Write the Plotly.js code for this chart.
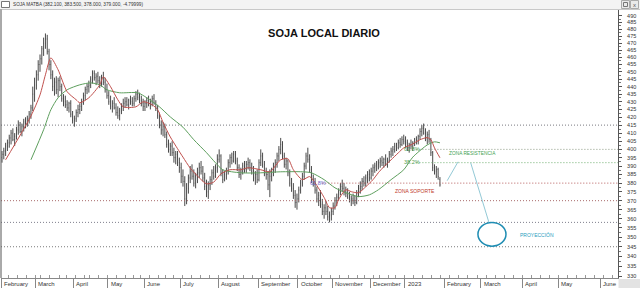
<!DOCTYPE html>
<html><head><meta charset="utf-8">
<script src="https://cdn.plot.ly/plotly-3.0.1.min.js"></script>
<style>html,body{margin:0;padding:0;background:#fff}#chart{width:640px;height:288px}</style>
</head><body><div id="chart"></div>
<script>
// ---------- DATA ----------
// Argentine market holidays 2022 (no trading bars)
const holidays = ['2022-02-28','2022-03-01','2022-03-24','2022-04-14','2022-04-15','2022-05-18','2022-05-25',
  '2022-06-17','2022-06-20','2022-08-15','2022-10-07','2022-10-10','2022-11-21','2022-12-08','2022-12-09','2022-12-20'];

// daily bars from 2022-02-01 to 2023-01-27 (one per trading day)
const open = [
 395,397,399,402,404,407,410,406,408,412,415,411,414,417,416,419,422,426,435,
 441,448,455,459,466,470,473,464,455,448,440,443,438,444,440,432,430,428,426,429,422,
 418,419,423,425,427,430,434,438,440,441,445,449,446,447,444,441,446,443,438,
 434,430,427,429,426,423,421,424,427,429,430,428,431,430,429,432,435,433,431,429,
 427,429,431,428,430,432,429,426,421,415,412,414,409,403,400,402,398,395,397,392,
 389,384,381,371,377,383,387,384,380,384,386,389,387,383,378,375,379,382,386,384,389,
 394,396,386,382,385,387,392,395,393,397,393,389,385,387,390,388,391,392,389,387,383,385,
 382,392,396,391,386,385,379,384,387,390,392,396,400,403,396,391,393,386,380,377,373,369,
 371,376,380,384,390,396,394,388,382,380,376,371,373,368,364,366,364,361,362,
 364,367,370,372,375,378,377,375,374,372,370,371,370,369,374,377,378,381,380,383,385,
 383,387,389,390,391,392,393,392,394,391,393,397,399,400,402,401,404,403,406,
 405,404,401,403,402,404,406,405,408,411,413,410,407,409,406,398,389,387,388,382.1];
const high = [
 399,401,404,406,409,412,413,410,414,418,417,416,419,420,421,424,428,440,446,
 451,458,462,468,474,477,476,466,458,451,446,447,446,447,442,435,434,431,430,431,424,
 421,425,428,429,432,436,440,442,444,447,451,451,449,450,447,448,450,446,442,
 437,434,431,433,429,427,426,429,432,433,433,432,434,433,434,437,438,436,434,432,
 431,433,434,432,434,435,431,428,423,418,417,416,411,406,404,405,401,399,399,395,
 392,388,384,380,385,390,391,388,386,389,392,393,390,386,382,381,384,388,390,391,397,
 400,397,388,387,389,394,397,398,399,399,395,391,389,392,393,393,395,394,392,390,387,388,
 394,400,398,393,389,387,388,389,392,394,398,402,407,405,398,395,394,388,383,380,376,374,
 378,382,386,392,398,401,397,390,385,383,378,375,376,371,368,370,367,364,366,
 369,372,374,377,380,382,380,378,377,375,373,374,373,376,379,381,383,384,385,387,388,
 389,391,392,393,394,395,396,395,397,395,399,401,402,404,404,406,407,408,409,
 408,406,404,406,405,407,408,409,413,415,416,413,411,412,407,399,391,390,389,383.5];
const low = [
 392,394,396,399,401,403,405,402,406,409,410,408,411,413,414,416,419,424,430,
 438,444,450,455,461,466,462,451,445,437,434,435,433,437,430,427,426,424,423,420,416,
 414,417,420,422,424,428,431,435,436,439,442,444,441,442,439,440,441,436,432,
 428,425,423,425,421,419,418,422,424,426,427,425,428,427,427,430,431,429,427,424,
 424,426,427,425,427,428,424,419,413,409,408,407,401,398,396,396,392,391,390,386,
 380,378,367,368,374,380,382,378,377,380,383,385,381,376,372,371,376,379,382,383,386,
 392,384,380,381,382,385,389,391,392,391,387,383,382,385,386,386,388,387,385,381,379,380,
 381,390,389,384,382,376,372,381,384,386,389,393,397,394,389,388,384,378,375,371,366,365,
 369,374,378,382,388,392,386,380,378,374,369,367,366,362,360,362,359,358,359,
 362,365,367,370,373,375,373,372,371,369,367,368,367,368,372,374,376,378,378,380,381,
 382,384,386,387,388,389,390,389,390,389,392,395,396,398,399,400,401,402,403,
 401,399,398,400,399,402,403,403,406,408,409,405,403,404,396,387,385,383,382,378];
const close = [
 397,399,402,404,407,410,406,408,412,415,411,414,417,416,419,422,426,435,441,
 448,455,459,466,470,473,464,455,448,440,443,438,444,440,432,430,428,426,429,422,418,
 419,423,425,427,430,434,438,440,441,445,449,446,447,444,441,446,443,438,434,
 430,427,429,426,423,421,424,427,429,430,428,431,430,429,432,435,433,431,429,427,
 429,431,428,430,432,429,426,421,415,412,414,409,403,400,402,398,395,397,392,389,
 384,381,371,377,383,387,384,380,384,386,389,387,383,378,375,379,382,386,384,389,394,
 396,386,382,385,387,392,395,393,397,393,389,385,387,390,388,391,392,389,387,383,385,382,
 392,396,391,386,385,379,384,387,390,392,396,400,403,396,391,393,386,380,377,373,369,371,
 376,380,384,390,396,394,388,382,380,376,371,373,368,364,366,364,361,362,364,
 367,370,372,375,378,377,375,374,372,370,371,370,369,374,377,378,381,380,383,385,383,
 387,389,390,391,392,393,392,394,391,393,397,399,400,402,401,404,403,406,405,
 404,401,403,402,404,406,405,408,411,413,410,407,409,406,398,389,387,388,383.8,379];

// short moving average (red)
const redDates = ['2022-02-03','2022-02-23','2022-03-04','2022-03-09','2022-03-14','2022-03-18','2022-03-28','2022-04-04','2022-04-06','2022-04-13','2022-04-25','2022-04-27','2022-05-03','2022-05-09','2022-05-12','2022-05-24','2022-05-31','2022-06-07','2022-06-10','2022-06-15','2022-06-23','2022-06-29','2022-07-04','2022-07-08','2022-07-15','2022-07-21','2022-07-27','2022-08-02','2022-08-09','2022-08-18','2022-08-24','2022-09-02','2022-09-09','2022-09-19','2022-09-23','2022-09-28','2022-10-05','2022-10-13','2022-10-18','2022-10-25','2022-10-28','2022-11-02','2022-11-04','2022-11-10','2022-11-15','2022-11-22','2022-11-28','2022-12-02','2022-12-07','2022-12-14','2022-12-21','2022-12-27','2022-12-30','2023-01-05','2023-01-12','2023-01-18','2023-01-20','2023-01-24','2023-01-27'];
const redVals = [393.7,420.8,434.5,448,459.6,451.4,436.6,431.3,429.3,432.6,441.2,446.6,439.9,431.3,426.7,426.7,430,428,424.8,416.7,407.6,400.4,395.3,388.8,383.1,379.6,380.6,385.4,387.8,387.8,389,387.8,386.6,393.7,394.3,387.8,382,383.8,380.2,371.8,366.1,366.1,370.6,376.2,375.1,374.5,377.9,382,386.1,389.6,393.7,397.9,400.9,402.7,405.9,407.2,405.9,400.9,394.9];
// long moving average (green)
const greenDates = ['2022-02-23','2022-03-08','2022-03-14','2022-03-18','2022-03-28','2022-04-06','2022-04-18','2022-04-25','2022-04-29','2022-05-10','2022-05-26','2022-06-02','2022-06-13','2022-06-23','2022-07-04','2022-07-12','2022-07-21','2022-07-28','2022-08-03','2022-08-18','2022-09-02','2022-09-19','2022-10-05','2022-10-14','2022-10-25','2022-11-02','2022-11-10','2022-11-22','2022-11-30','2022-12-07','2022-12-21','2022-12-30','2023-01-06','2023-01-18','2023-01-24','2023-01-27'];
const greenVals = [393.7,412.1,424.8,432.6,437.9,441.2,442.5,441.2,437.9,435.9,435.9,432.6,426.7,420.2,413.7,405.9,398,391.9,387.8,386,386,386.6,386.6,386,382,377.3,374.5,372.3,373.3,376.2,382,387.8,395.3,402.7,404.6,404];

// horizontal levels
const levels      = [415, 400, 392, 380, 370, 358, 345];
const levelStarts = ['2022-02-01','2023-01-10','2023-01-10','2022-10-24','2022-02-01','2022-02-01','2022-02-01'];
const levelColors = ['#7a7a80','#8c9a84','#6fae6f','#b45a5a','#a86a6a','#7f7f8c','#7a7a7a'];

// projection path
const proj1Dates = ['2023-02-02','2023-02-10'], proj1Vals = [381.4, 392.5];
const proj2Dates = ['2023-02-21','2023-03-07'], proj2Vals = [391.9, 358.2];
const targetDates = ['2023-02-27','2023-03-20'], targetVals = [345.3, 358];

const monthStarts = ['2022-02-01','2022-03-01','2022-04-01','2022-05-01','2022-06-01','2022-07-01','2022-08-01','2022-09-01','2022-10-01','2022-11-01','2022-12-01','2023-01-01','2023-02-01','2023-03-01','2023-04-01','2023-05-01','2023-06-01'];
const monthLabels = ['February','March','April','May','June','July','August','September','October','November','December','2023','February','March','April','May','June'];
const yTicks = [330,335,340,345,350,355,360,365,370,375,380,385,390,395,400,405,410,415,420,425,430,435,440,445,450,455,460,465,470,475,480,485,490];
const header = 'SOJA MATBA (382.100, 383.500, 378.000, 379.000, -4.79999)';

// ---------- trading calendar (x positions) ----------
const calendar = [];
for (let t = Date.UTC(2022,1,1); t <= Date.UTC(2023,5,30); t += 86400000) {
  const d = new Date(t), wd = d.getUTCDay();
  if (wd === 0 || wd === 6) continue;
  const s = d.toISOString().slice(0,10);
  if (holidays.includes(s)) continue;
  calendar.push(s);
}
function idx(s){ for (let i=0;i<calendar.length;i++) if (calendar[i] >= s) return i; return calendar.length; }
const L = Math.log10;
const barX = open.map((_, i) => i);

const iJun = idx('2023-06-01');
const ppi = (601 - 2) / iJun;
const xr = [-(2 - 1) / ppi, iJun + (618 - 601) / ppi];
const yr = [L(329), L(494.3)];
const yDom = v => (L(v) - yr[0]) / (yr[1] - yr[0]);

const weekIdx = [];
calendar.forEach((s, i) => { if (i > 0 && new Date(s + 'T00:00:00Z').getUTCDay() < new Date(calendar[i-1] + 'T00:00:00Z').getUTCDay()) weekIdx.push(i - 0.5); });
const monthIdx = monthStarts.map(s => idx(s) - 0.5);
const yMinor = yTicks.slice(0, -1).map(v => v + 2.5);

const FONT = 'Liberation Sans, Arial, sans-serif';
const traces = [];
levels.forEach((v, i) => {
  const x0 = levelStarts[i] === '2022-02-01' ? xr[0] : idx(levelStarts[i]);
  traces.push({type:'scatter', mode:'lines', x:[x0, xr[1]], y:[v, v], hoverinfo:'skip',
    line:{color: levelColors[i], width:1, dash:'1px,2px'}});
});
traces.push({type:'ohlc', x: barX, open, high, low, close, tickwidth:0.22, hoverinfo:'skip',
  increasing:{line:{color:'#4a4a4a', width:1}}, decreasing:{line:{color:'#4a4a4a', width:1}}});
traces.push({type:'scatter', mode:'lines', x: greenDates.map(idx), y: greenVals, hoverinfo:'skip',
  line:{color:'#5e9f5e', width:1, shape:'spline', smoothing:0.7}});
traces.push({type:'scatter', mode:'lines', x: redDates.map(idx), y: redVals, hoverinfo:'skip',
  line:{color:'#c0504d', width:1, shape:'spline', smoothing:0.7}});
traces.push({type:'scatter', mode:'lines', x: proj1Dates.map(idx), y: proj1Vals, hoverinfo:'skip', line:{color:'#93c9d6', width:1}});
traces.push({type:'scatter', mode:'lines', x: proj2Dates.map(idx), y: proj2Vals, hoverinfo:'skip', line:{color:'#93c9d6', width:1}});

// pixel -> paper helpers for window chrome only
const PX = x => (x - 1) / 617, PY = y => (278 - y) / 268;

const shapes = [
  {type:'rect', xref:'paper', yref:'paper', x0:PX(0), x1:PX(640), y0:PY(0), y1:PY(9.5), fillcolor:'#f3f3f3', line:{width:0}, layer:'below'},
  {type:'line', xref:'paper', yref:'paper', x0:PX(0), x1:PX(640), y0:PY(9.5), y1:PY(9.5), line:{color:'#c8c8c8', width:1}},
  {type:'rect', xref:'paper', yref:'paper', x0:PX(1.5), x1:PX(9.5), y0:PY(1.5), y1:PY(7.5), line:{color:'#777', width:1}, fillcolor:'#fff'},
  {type:'rect', xref:'paper', yref:'paper', x0:PX(621.5), x1:PX(629.5), y0:PY(0.5), y1:PY(8.5), line:{color:'#aaa', width:1}, fillcolor:'#eaeaea'},
  {type:'rect', xref:'paper', yref:'paper', x0:PX(630.5), x1:PX(638.5), y0:PY(0.5), y1:PY(8.5), line:{color:'#aaa', width:1}, fillcolor:'#eaeaea'},
  {type:'rect', xref:'paper', yref:'paper', x0:PX(623.5), x1:PX(627.5), y0:PY(2.5), y1:PY(6.5), line:{color:'#777', width:1}},
  {type:'line', xref:'paper', yref:'paper', x0:PX(1), x1:PX(1), y0:PY(9.5), y1:PY(278), line:{color:'#555', width:1}},
  {type:'rect', xref:'paper', yref:'paper', x0:PX(618.5), x1:PX(640), y0:PY(279), y1:PY(288), fillcolor:'#e3e3e3', line:{width:0}},
  {type:'circle', xref:'x', yref:'paper', x0: idx(targetDates[0]), x1: idx(targetDates[1]) + 0.5,
    y0: yDom(targetVals[0]), y1: yDom(targetVals[1]), line:{color:'#1f8db3', width:1.5}}
];

const notes = [
  {t:'61.8%', d:'2022-10-12', v:380.2, c:'#6b5fc4', s:5.5},
  {t:'61.8%', d:'2022-12-29', v:400.5, c:'#4f9e4f', s:5.5},
  {t:'38.2%', d:'2022-12-29', v:392.3, c:'#4f9e4f', s:5.5},
  {t:'ZONA SOPORTE', d:'2022-12-22', v:375.6, c:'#c0392b', s:5},
  {t:'ZONA RESISTENCIA', d:'2023-02-02', v:397.3, c:'#3f9f52', s:4.8},
  {t:'PROYECCIÓN', d:'2023-03-29', v:351, c:'#2a9ec0', s:5}
];
const annotations = notes.map(n => ({xref:'x', yref:'y', x: idx(n.d), y: L(n.v), text: n.t, showarrow:false,
  xanchor:'left', yanchor:'middle', font:{family:FONT, size:n.s, color:n.c}}));
monthLabels.forEach((m, i) => annotations.push({xref:'x', yref:'paper', x: monthIdx[i], y: PY(284), text: m,
  showarrow:false, xanchor:'left', yanchor:'middle', xshift:1, font:{family:FONT, size:6, color:'#333'}}));
annotations.push({xref:'paper', yref:'paper', x: PX(11), y: PY(4.7), text: header, showarrow:false,
  xanchor:'left', yanchor:'middle', font:{family:FONT, size:4.7, color:'#333'}});
annotations.push({xref:'paper', yref:'paper', x: PX(634.5), y: PY(4.5), text: 'x', showarrow:false,
  xanchor:'center', yanchor:'middle', font:{family:FONT, size:6, color:'#555'}});

const layout = {
  width:640, height:288, margin:{l:1, r:22, t:10, b:10},
  paper_bgcolor:'#fff', plot_bgcolor:'#fff', showlegend:false,
  title:{text:'<b>SOJA LOCAL DIARIO</b>', x:324/640, xref:'container', y:1 - 33/288, yref:'container',
    xanchor:'center', yanchor:'middle', font:{family:FONT, size:11, color:'#111'}},
  xaxis:{range:xr, showgrid:false, zeroline:false, showline:true, linecolor:'#888', linewidth:1,
    tickmode:'array', tickvals:monthIdx, showticklabels:false, ticks:'outside', ticklen:10, tickcolor:'#888', tickwidth:1,
    minor:{tickmode:'array', tickvals:weekIdx, ticks:'inside', ticklen:3, tickcolor:'#999'},
    rangeslider:{visible:false}, fixedrange:true},
  yaxis:{type:'log', side:'right', range:yr, showgrid:false, zeroline:false,
    showline:true, linecolor:'#555', linewidth:1, ticks:'outside', ticklen:3, tickcolor:'#555',
    tickmode:'array', tickvals:yTicks, ticktext:yTicks.map(String), ticklabelstandoff:4,
    tickfont:{family:FONT, size:5.5, color:'#333'},
    minor:{tickmode:'array', tickvals:yMinor, ticks:'outside', ticklen:2, tickcolor:'#777'}, fixedrange:true},
  shapes, annotations
};
Plotly.newPlot('chart', traces, layout, {staticPlot:true, displayModeBar:false});
</script></body></html>
